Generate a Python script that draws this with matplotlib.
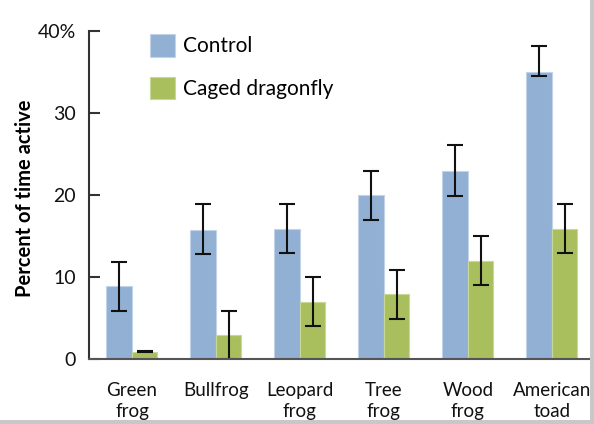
import matplotlib
matplotlib.use("Agg")
import matplotlib.pyplot as plt
from matplotlib.patches import Rectangle
import numpy as np

plt.rcParams['font.family'] = ['Lato', 'DejaVu Sans']

# data
species = ["Green\nfrog", "Bullfrog", "Leopard\nfrog", "Tree\nfrog", "Wood\nfrog", "American\ntoad"]
control = [8.9, 15.8, 15.9, 20.0, 22.9, 35.0]
control_err_low = [3.0, 3.0, 3.0, 3.0, 3.0, 0.5]
control_err_high = [3.0, 3.1, 3.0, 3.0, 3.2, 3.2]
dragonfly = [0.9, 2.9, 7.0, 7.9, 12.0, 15.9]
dragonfly_err_low = [0.0, 2.9, 3.0, 3.0, 3.0, 3.0]
dragonfly_err_high = [0.1, 3.0, 3.0, 3.0, 3.0, 3.0]
yticks = [0, 10, 20, 30, 40]
ytick_labels = ["0", "10", "20", "30", "40%"]

blue = "#92b0d3"
green = "#a9bf5e"
dark = "#333333"

fig = plt.figure(figsize=(5.94, 4.24), dpi=100)
ax = fig.add_axes([88.7 / 594, 1 - 359.3 / 424, (590 - 88.7) / 594, 328.3 / 424])

x = np.arange(len(species))
w = 0.304
err_kw = dict(ecolor="#111111", elinewidth=1.5, capsize=5.5, capthick=1.5)
ax.bar(x - w / 2, control, w, color=blue, edgecolor="#c3d3e8", linewidth=0.8,
       yerr=[control_err_low, control_err_high], error_kw=err_kw, label="Control", zorder=2)
ax.bar(x + w / 2, dragonfly, w, color=green, edgecolor="#c8d79a", linewidth=0.8,
       yerr=[dragonfly_err_low, dragonfly_err_high], error_kw=err_kw, label="Caged dragonfly", zorder=2)

ax.set_xlim(-0.515, 5.455)
ax.set_ylim(0, 40)
ax.set_yticks(yticks)
ax.set_yticklabels(ytick_labels)
ax.set_xticks(x)
ax.set_xticklabels(species, linespacing=1.3)
ax.tick_params(axis="x", length=0, pad=16, labelsize=13.5, colors="#111111")
ax.tick_params(axis="y", direction="in", length=8, width=1.5, color=dark, pad=9,
               labelsize=14, labelcolor="#111111")

for side in ["top", "right"]:
    ax.spines[side].set_visible(False)
ax.spines["left"].set_color(dark)
ax.spines["left"].set_linewidth(1.5)
ax.spines["bottom"].set_color("#555555")
ax.spines["bottom"].set_linewidth(1.5)
ax.spines["bottom"].set_zorder(3)

ax.set_ylabel("Percent of time active", fontsize=14.5, fontweight="bold")
ax.yaxis.set_label_coords(-0.108, 0.49)

ax.legend(loc="upper left", bbox_to_anchor=(150 / 594, 1 - 34 / 424), bbox_transform=fig.transFigure,
          frameon=False, fontsize=15, handlelength=1.2, handleheight=1.3, labelspacing=0.95,
          handletextpad=0.4, borderaxespad=0, borderpad=0)

# grey frame of the original picture on right and bottom
fig.add_artist(Rectangle((590 / 594, 0), 4 / 594, 1, transform=fig.transFigure, color="#c8c8c8", lw=0))
fig.add_artist(Rectangle((0, 0), 1, 4 / 424, transform=fig.transFigure, color="#c8c8c8", lw=0))

fig.savefig("out.png", dpi=100)
